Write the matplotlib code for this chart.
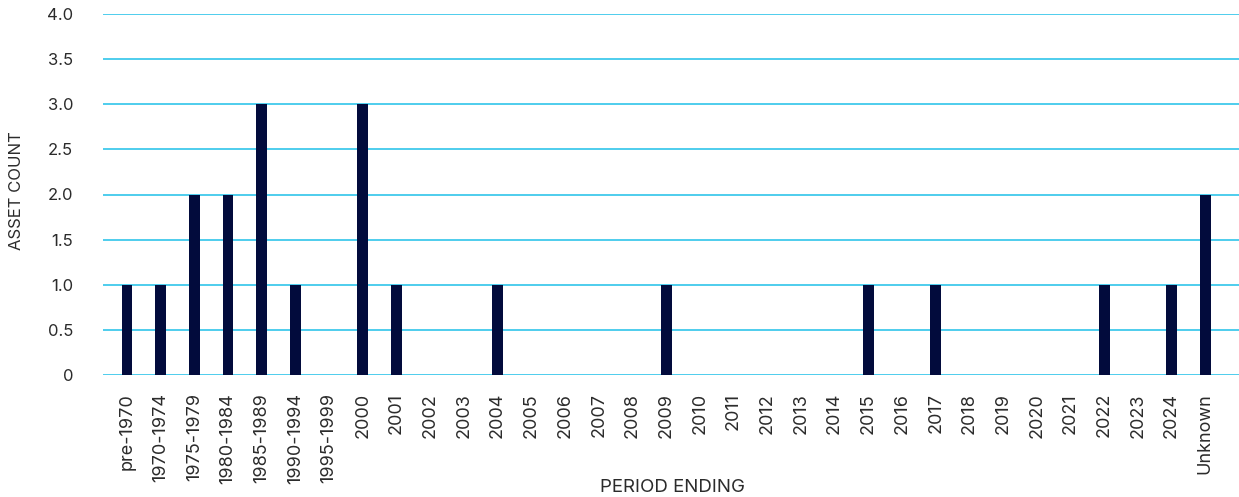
import matplotlib
matplotlib.use("Agg")
import matplotlib.pyplot as plt

periods = ["pre-1970", "1970-1974", "1975-1979", "1980-1984", "1985-1989",
           "1990-1994", "1995-1999", "2000", "2001", "2002", "2003", "2004",
           "2005", "2006", "2007", "2008", "2009", "2010", "2011", "2012",
           "2013", "2014", "2015", "2016", "2017", "2018", "2019", "2020",
           "2021", "2022", "2023", "2024", "Unknown"]
asset_count = [1, 1, 2, 2, 3,
               1, 0, 3, 1, 0, 0, 1,
               0, 0, 0, 0, 1, 0, 0, 0,
               0, 0, 1, 0, 1, 0, 0, 0,
               0, 1, 0, 1, 2]
y_ticks = [0, 0.5, 1.0, 1.5, 2.0, 2.5, 3.0, 3.5, 4.0]
y_tick_labels = ["0", "0.5", "1.0", "1.5", "2.0", "2.5", "3.0", "3.5", "4.0"]

BAR = "#020b3c"
GRID = "#1ec0e8"
TEXT = "#2b2b2b"

plt.rcParams["font.family"] = ["Inter", "DejaVu Sans"]

fig = plt.figure(figsize=(12.39, 4.97), dpi=100)
ax = fig.add_axes([103 / 1239, 1 - 375 / 497, (1239 - 103) / 1239, (375 - 14) / 497])

x = list(range(len(periods)))
ax.bar(x, asset_count, width=0.32, color=BAR, zorder=3)

ax.set_ylim(0, 4.0)
ax.set_xlim(-0.71, 33.0)
ax.set_yticks(y_ticks)
ax.set_yticklabels(y_tick_labels, fontsize=12, color=TEXT)
ax.set_xticks(x)
ax.set_xticklabels(periods, rotation=90, fontsize=13, color=TEXT)
ax.tick_params(axis="y", length=0, pad=21.5)
ax.tick_params(axis="x", length=0, pad=13)
ax.yaxis.grid(True, color=GRID, linewidth=1.1, zorder=0)
ax.set_axisbelow(True)
for s in ax.spines.values():
    s.set_visible(False)

fig.text(17 / 1239, 1 - 191 / 497, "ASSET COUNT", rotation=90, ha="center",
         va="center", fontsize=12, color=TEXT)
fig.text(672 / 1239, 1 - 487 / 497, "PERIOD ENDING", ha="center", va="center",
         fontsize=13.5, color=TEXT)

fig.savefig("out.png", dpi=100, facecolor="white")
